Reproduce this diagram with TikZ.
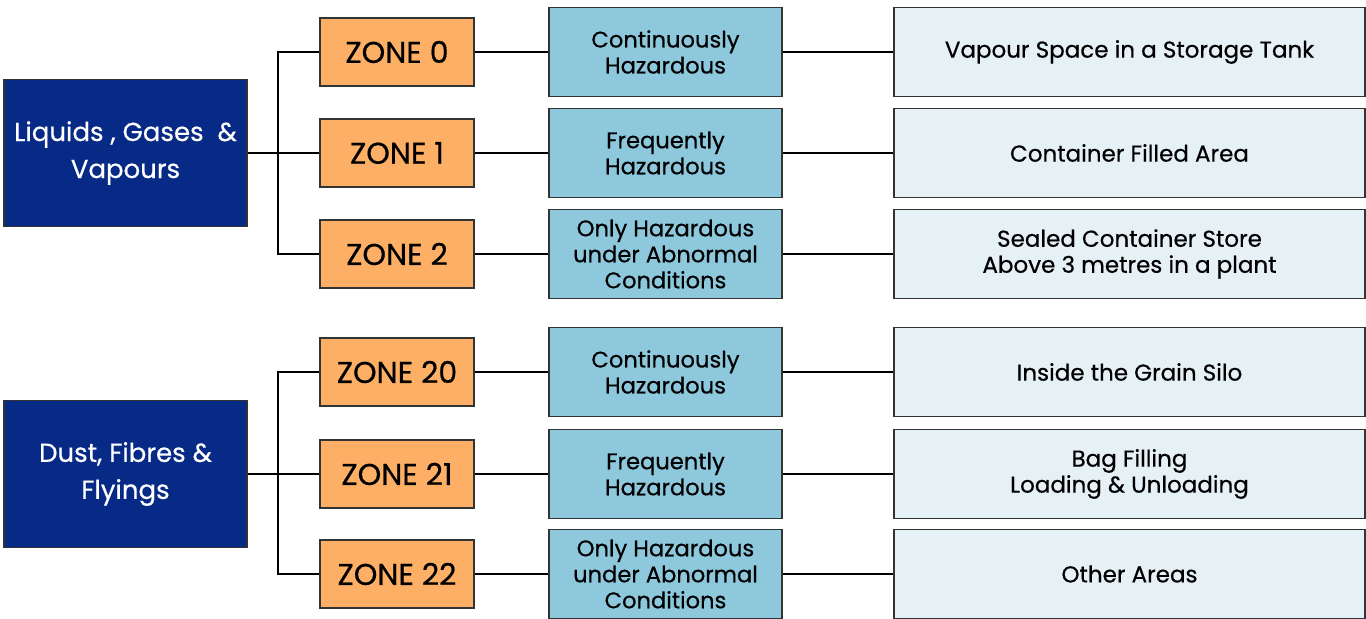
\documentclass[tikz,border=0pt]{standalone}
\usepackage{fontspec}
\setmainfont{Poppins}[FakeBold=0.5]
\definecolor{navy}{HTML}{082A87}
\definecolor{zoneorange}{HTML}{FDB065}
\definecolor{hazblue}{HTML}{8EC8DD}
\definecolor{exblue}{HTML}{E6F1F6}
\definecolor{edge}{HTML}{333333}
\begin{document}
\begin{tikzpicture}[x=0.5pt,y=-0.5pt,line width=0.6pt,
    box/.style={draw=edge,rectangle,inner sep=2pt,align=center,text=black},
    cat/.style={box,fill=navy,text=white,minimum width=121.5pt,minimum height=73.5pt,font=\fontsize{13}{18.5}\selectfont},
    zone/.style={box,fill=zoneorange,minimum width=77pt,minimum height=34pt,font=\fontsize{15}{16}\selectfont},
    haz/.style={box,fill=hazblue,minimum width=116.5pt,minimum height=44.5pt,font=\fontsize{11.3}{13}\selectfont},
    ex/.style={box,fill=exblue,minimum width=235.5pt,minimum height=44.5pt,font=\fontsize{11.5}{13}\selectfont}]
  \useasboundingbox (0,0) rectangle (1366,619);
  % gases
  \node[cat] (L) at (125.5,153) {Liquids , Gases \ \&\\Vapours};
  \node[zone] (Z0) at (397,52) {ZONE 0};
  \node[zone] (Z1) at (397,153) {ZONE 1};
  \node[zone] (Z2) at (397,254) {ZONE 2};
  \node[haz] (H0) at (665.5,52) {Continuously\\Hazardous};
  \node[haz] (H1) at (665.5,153) {Frequently\\Hazardous};
  \node[haz] (H2) at (665.5,254) {Only Hazardous\\under Abnormal\\Conditions};
  \node[ex] (E0) at (1129.5,52) {Vapour Space in a Storage Tank};
  \node[ex] (E1) at (1129.5,153) {Container Filled Area};
  \node[ex] (E2) at (1129.5,254) {Sealed Container Store\\Above 3 metres in a plant};
  % dusts
  \node[cat] (D) at (125.5,474) {Dust, Fibres \&\\Flyings};
  \node[zone] (Z20) at (397,372) {ZONE 20};
  \node[zone] (Z21) at (397,474) {ZONE 21};
  \node[zone] (Z22) at (397,574) {ZONE 22};
  \node[haz] (H20) at (665.5,372) {Continuously\\Hazardous};
  \node[haz] (H21) at (665.5,474) {Frequently\\Hazardous};
  \node[haz] (H22) at (665.5,574) {Only Hazardous\\under Abnormal\\Conditions};
  \node[ex] (E20) at (1129.5,372) {Inside the Grain Silo};
  \node[ex] (E21) at (1129.5,474) {Bag Filling\\Loading \& Unloading};
  \node[ex] (E22) at (1129.5,574) {Other Areas};
  \coordinate (jL) at (278,153);
  \coordinate (jD) at (278,474);
  \draw (L) -- (jL);
  \draw (jL) |- (Z0);
  \draw (jL) -- (Z1);
  \draw (jL) |- (Z2);
  \draw (D) -- (jD);
  \draw (jD) |- (Z20);
  \draw (jD) -- (Z21);
  \draw (jD) |- (Z22);
  \foreach \n in {0,1,2,20,21,22} {
    \draw (Z\n) -- (H\n);
    \draw (H\n) -- (E\n);
  }
\end{tikzpicture}
\end{document}
